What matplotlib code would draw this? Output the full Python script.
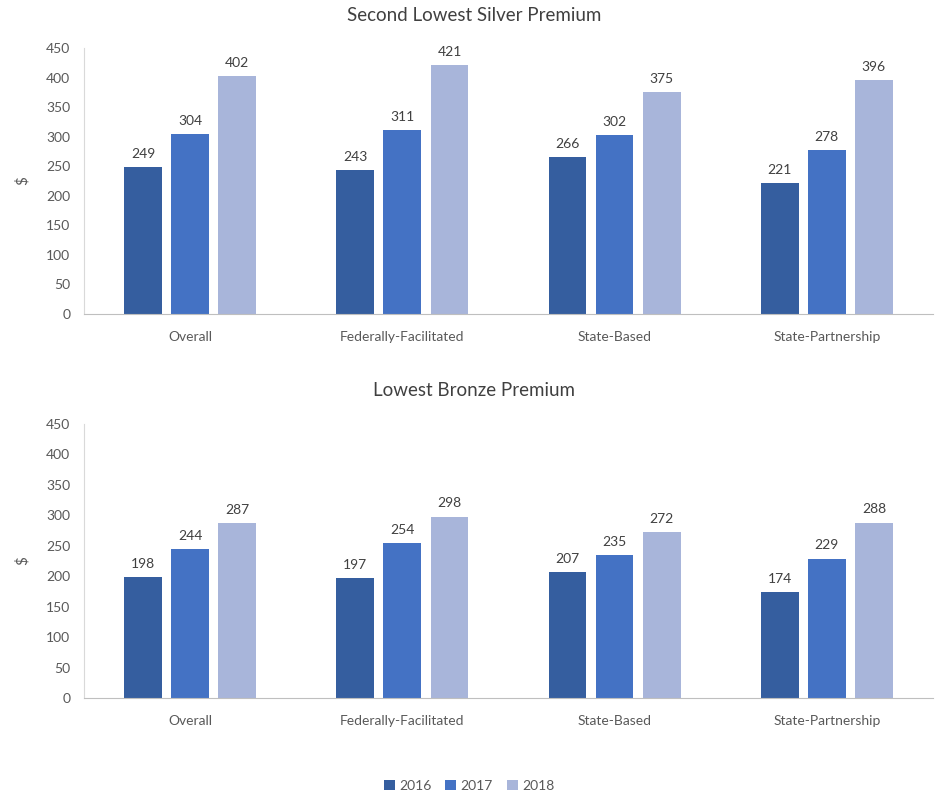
import matplotlib.pyplot as plt
import numpy as np
from matplotlib.patches import Patch

categories = ["Overall", "Federally-Facilitated", "State-Based", "State-Partnership"]
years = ["2016", "2017", "2018"]
silver = {
    "2016": [249, 243, 266, 221],
    "2017": [304, 311, 302, 278],
    "2018": [402, 421, 375, 396],
}
bronze = {
    "2016": [198, 197, 207, 174],
    "2017": [244, 254, 235, 229],
    "2018": [287, 298, 272, 288],
}
colors = ["#355E9F", "#4472C4", "#A8B5DA"]
text_color = "#595959"

plt.rcParams["font.family"] = ["Lato", "DejaVu Sans"]

fig = plt.figure(figsize=(9.38, 7.96), dpi=100)
ax_top = fig.add_axes([0.0896, 0.6055, 0.905, 0.3342])
ax_bot = fig.add_axes([0.0896, 0.1231, 0.905, 0.3442])

x = np.arange(len(categories))
width = 0.178
pitch = 0.222


def draw_panel(ax, data, title, title_y):
    for i, yr in enumerate(years):
        pos = x + (i - 1) * pitch
        bars = ax.bar(pos, data[yr], width=width, color=colors[i], zorder=2)
        for b, v in zip(bars, data[yr]):
            ax.text(b.get_x() + b.get_width() / 2, v + 12, str(v),
                    ha="center", va="bottom", fontsize=10, color="#404040")
    ax.set_xlim(-0.5, len(categories) - 0.5)
    ax.set_ylim(0, 450)
    ax.set_yticks(range(0, 451, 50))
    ax.set_xticks(x)
    ax.set_xticklabels(categories)
    ax.tick_params(axis="both", labelsize=10, colors=text_color, length=0)
    ax.tick_params(axis="x", pad=12)
    ax.tick_params(axis="y", pad=10)
    for s in ["top", "right"]:
        ax.spines[s].set_visible(False)
    ax.spines["left"].set_color("#D9D9D9")
    ax.spines["bottom"].set_color("#BFBFBF")
    ax.set_ylabel("$", fontsize=11, color=text_color, labelpad=12)
    fig.text(0.505, title_y, title, ha="center", va="center",
             fontsize=13.5, color="#404040")


draw_panel(ax_top, silver, "Second Lowest Silver Premium", 0.981)
draw_panel(ax_bot, bronze, "Lowest Bronze Premium", 0.509)

handles = [Patch(facecolor=c, label=y) for c, y in zip(colors, years)]
fig.legend(handles=handles, loc="center", bbox_to_anchor=(0.5, 0.013), ncol=3,
           frameon=False, fontsize=10, handlelength=0.8, handleheight=0.8,
           handletextpad=0.3, columnspacing=1.0, labelcolor=text_color)

fig.savefig("out.png", dpi=100)
